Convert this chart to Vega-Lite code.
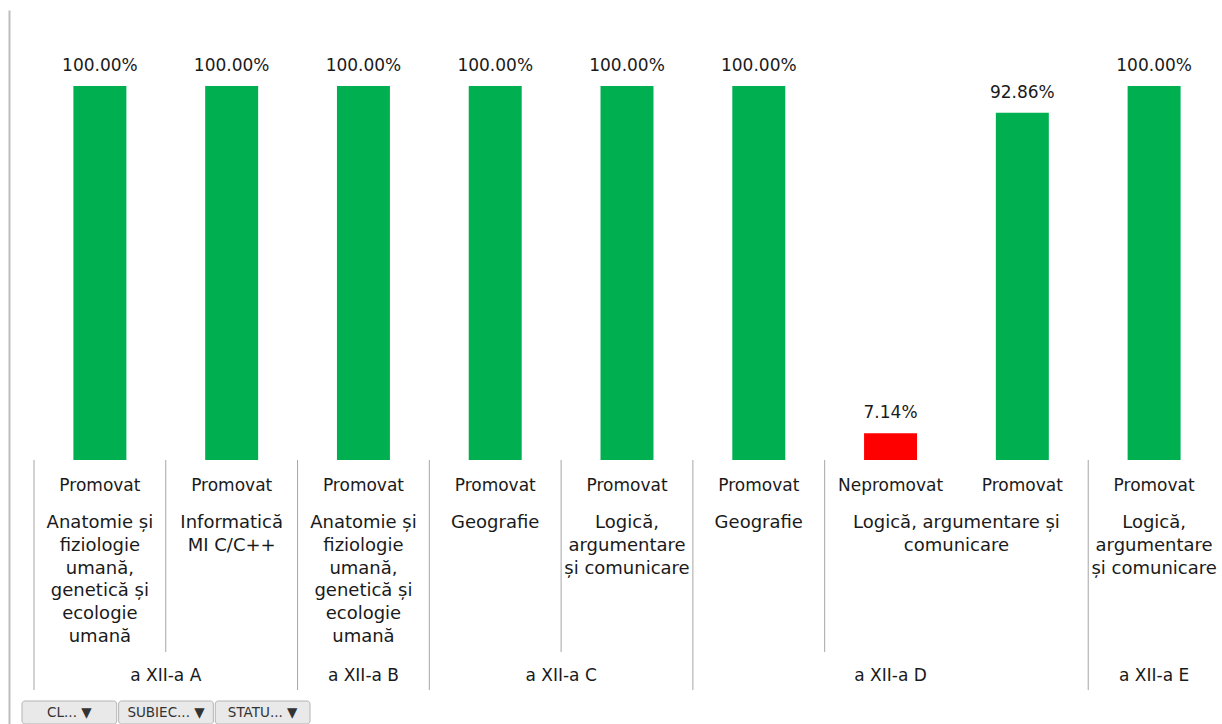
{
  "$schema": "https://vega.github.io/schema/vega-lite/v6.json",
  "width": 1186,
  "height": 714,
  "autosize": {"type": "none"},
  "padding": {"left": 34, "top": 10, "right": 2, "bottom": 0},
  "background": "white",
  "config": {"view": {"stroke": null}, "text": {"font": "DejaVu Sans", "fontSize": 17, "color": "#1a1a1a"}},
  "datasets": {
    "bars": [
      {"col": 1, "cls": "a XII-a A", "subj": "Anatomie și fiziologie umană, genetică și ecologie umană", "status": "Promovat", "pct": 1.0},
      {"col": 2, "cls": "a XII-a A", "subj": "Informatică MI C/C++", "status": "Promovat", "pct": 1.0},
      {"col": 3, "cls": "a XII-a B", "subj": "Anatomie și fiziologie umană, genetică și ecologie umană", "status": "Promovat", "pct": 1.0},
      {"col": 4, "cls": "a XII-a C", "subj": "Geografie", "status": "Promovat", "pct": 1.0},
      {"col": 5, "cls": "a XII-a C", "subj": "Logică, argumentare și comunicare", "status": "Promovat", "pct": 1.0},
      {"col": 6, "cls": "a XII-a D", "subj": "Geografie", "status": "Promovat", "pct": 1.0},
      {"col": 7, "cls": "a XII-a D", "subj": "Logică, argumentare și comunicare", "status": "Nepromovat", "pct": 0.0714},
      {"col": 8, "cls": "a XII-a D", "subj": "Logică, argumentare și comunicare", "status": "Promovat", "pct": 0.9286},
      {"col": 9, "cls": "a XII-a E", "subj": "Logică, argumentare și comunicare", "status": "Promovat", "pct": 1.0}
    ],
    "subjects": [
      {"col": 1, "span": 1, "label": "Anatomie și\nfiziologie\numană,\ngenetică și\necologie\numană"},
      {"col": 2, "span": 1, "label": "Informatică\nMI C/C++"},
      {"col": 3, "span": 1, "label": "Anatomie și\nfiziologie\numană,\ngenetică și\necologie\numană"},
      {"col": 4, "span": 1, "label": "Geografie"},
      {"col": 5, "span": 1, "label": "Logică,\nargumentare\nși comunicare"},
      {"col": 6, "span": 1, "label": "Geografie"},
      {"col": 7, "span": 2, "label": "Logică, argumentare  și\ncomunicare"},
      {"col": 9, "span": 1, "label": "Logică,\nargumentare\nși comunicare"}
    ],
    "classes": [
      {"col": 1, "span": 2, "label": "a XII-a A"},
      {"col": 3, "span": 1, "label": "a XII-a B"},
      {"col": 4, "span": 2, "label": "a XII-a C"},
      {"col": 7, "span": 3, "label": "a XII-a D"},
      {"col": 9, "span": 1, "label": "a XII-a E"}
    ],
    "separators": [
      {"col": 1, "kind": "full"},
      {"col": 2, "kind": "part"},
      {"col": 3, "kind": "full"},
      {"col": 4, "kind": "full"},
      {"col": 5, "kind": "part"},
      {"col": 6, "kind": "full"},
      {"col": 7, "kind": "part"},
      {"col": 9, "kind": "full"}
    ],
    "filters": [
      {"filter": "CL...", "label": "CL...  ▼"},
      {"filter": "SUBIEC...", "label": "SUBIEC...  ▼"},
      {"filter": "STATU...", "label": "STATU...  ▼"}
    ]
  },
  "encoding": {
    "y": {
      "type": "quantitative",
      "scale": {"domain": [-0.7059, 1.2032], "nice": false, "zero": false}
    }
  },
  "layer": [
    {
      "layer": [
        {
          "data": {"name": "bars"},
          "mark": {"type": "bar", "width": {"band": 0.402}},
          "encoding": {
            "x": {"field": "col", "type": "ordinal", "scale": {"domain": [1,2,3,4,5,6,7,8,9], "paddingInner": 0, "paddingOuter": 0}, "axis": null},
            "y": {"field": "pct", "type": "quantitative", "axis": {"offset": 25, "labels": false, "ticks": false, "grid": false, "title": null, "domainColor": "#bdbdbd", "domainWidth": 2}},
            "color": {"field": "status", "type": "nominal", "scale": {"domain": ["Promovat", "Nepromovat"], "range": ["#00B050", "#FF0000"]}, "legend": null}
          }
        },
        {
          "data": {"name": "bars"},
          "mark": {"type": "text", "baseline": "middle", "dy": -20},
          "encoding": {
            "x": {"field": "col", "type": "ordinal", "axis": null},
            "y": {"field": "pct", "type": "quantitative"},
            "text": {"field": "pct", "type": "quantitative", "format": ".2%"}
          }
        },
        {
          "data": {"name": "bars"},
          "mark": {"type": "text", "baseline": "middle"},
          "encoding": {
            "x": {"field": "col", "type": "ordinal", "axis": null},
            "y": {"datum": -0.0695},
            "text": {"field": "status"}
          }
        },
        {
          "mark": {"type": "rule", "color": "#a6a6a6", "strokeWidth": 1.5},
          "encoding": {"y": {"datum": 0}}
        },
        {
          "data": {"name": "subjects"},
          "transform": [{"filter": "datum.span == 1"}],
          "mark": {"type": "text", "baseline": "top", "lineBreak": "\n", "lineHeight": 22.8, "fontSize": 18},
          "encoding": {
            "x": {"field": "col", "type": "ordinal", "bandPosition": 0.5, "axis": null},
            "y": {"datum": -0.1444},
            "text": {"field": "label"}
          }
        },
        {
          "data": {"name": "subjects"},
          "transform": [{"filter": "datum.span == 2"}],
          "mark": {"type": "text", "baseline": "top", "lineBreak": "\n", "lineHeight": 22.8, "fontSize": 18},
          "encoding": {
            "x": {"field": "col", "type": "ordinal", "bandPosition": 1, "axis": null},
            "y": {"datum": -0.1444},
            "text": {"field": "label"}
          }
        },
        {
          "data": {"name": "classes"},
          "transform": [{"filter": "datum.span != 2"}],
          "mark": {"type": "text", "baseline": "middle"},
          "encoding": {
            "x": {"field": "col", "type": "ordinal", "bandPosition": 0.5, "axis": null},
            "y": {"datum": -0.5775},
            "text": {"field": "label"}
          }
        },
        {
          "data": {"name": "classes"},
          "transform": [{"filter": "datum.span == 2"}],
          "mark": {"type": "text", "baseline": "middle"},
          "encoding": {
            "x": {"field": "col", "type": "ordinal", "bandPosition": 1, "axis": null},
            "y": {"datum": -0.5775},
            "text": {"field": "label"}
          }
        },
        {
          "data": {"name": "separators"},
          "transform": [{"filter": "datum.kind == 'full'"}],
          "mark": {"type": "rule", "color": "#a6a6a6", "strokeWidth": 1},
          "encoding": {
            "x": {"field": "col", "type": "ordinal", "bandPosition": 0, "axis": null},
            "y": {"datum": 0},
            "y2": {"datum": -0.615}
          }
        },
        {
          "data": {"name": "separators"},
          "transform": [{"filter": "datum.kind == 'part'"}],
          "mark": {"type": "rule", "color": "#a6a6a6", "strokeWidth": 1},
          "encoding": {
            "x": {"field": "col", "type": "ordinal", "bandPosition": 0, "axis": null},
            "y": {"datum": 0},
            "y2": {"datum": -0.5134}
          }
        }
      ]
    },
    {
      "layer": [
        {
          "data": {"name": "filters"},
          "mark": {"type": "rect", "fill": "#e9e9e9", "stroke": "#b5b5b5", "strokeWidth": 1, "cornerRadius": 3},
          "encoding": {
            "x": {"field": "filter", "type": "nominal", "sort": null, "scale": {"range": [-12, 276], "paddingInner": 0.02, "paddingOuter": 0}, "axis": null},
            "y": {"datum": -0.6444},
            "y2": {"datum": -0.7059}
          }
        },
        {
          "data": {"name": "filters"},
          "mark": {"type": "text", "baseline": "middle", "fontSize": 13.5, "color": "#333333"},
          "encoding": {
            "x": {"field": "filter", "type": "nominal", "sort": null, "axis": null},
            "y": {"datum": -0.677},
            "text": {"field": "label"}
          }
        }
      ]
    }
  ],
  "resolve": {"scale": {"x": "independent"}}
}
